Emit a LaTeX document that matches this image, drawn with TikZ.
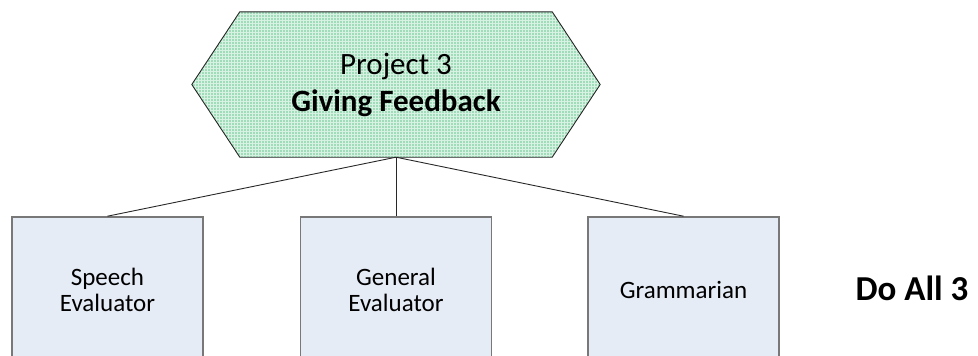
\documentclass[tikz,border=0pt]{standalone}
\usepackage{fontspec}
\setmainfont{Carlito}
\usetikzlibrary{calc,backgrounds,patterns}
\definecolor{hexbase}{RGB}{160,220,185}
\definecolor{hexgrid}{RGB}{215,242,226}
\definecolor{boxfill}{RGB}{230,236,246}
\definecolor{boxline}{RGB}{120,120,120}
\definecolor{conline}{RGB}{40,40,40}
\tikzset{
  hexbox/.style={minimum width=312pt, minimum height=145pt, inner sep=0pt, align=center, font=\fontsize{31}{37}\selectfont},
  hexline/.style={draw=black!85, line width=0.9pt, preaction={fill=hexbase}, pattern=grid, pattern color=hexgrid},
  rolebox/.style={draw=boxline, line width=1.6pt, fill=boxfill, minimum width=191pt, minimum height=146pt, inner sep=0pt, align=center, font=\fontsize{25}{25.5}\selectfont},
  conn/.style={draw=conline, line width=0.9pt},
  note/.style={font=\fontsize{35}{38}\selectfont\bfseries, inner sep=0pt}
}
\begin{document}
\begin{tikzpicture}[x=1pt,y=-1pt]
\useasboundingbox (0,0) rectangle (978,356);
\clip (0,0) rectangle (978,356);
\node[hexbox] (proj) at (396,84.5) {Project 3\\\textbf{Giving Feedback}};
\begin{scope}[on background layer]
\draw[hexline] (proj.north west) -- (proj.north east) -- ($(proj.east)+(48,0)$) -- (proj.south east) -- (proj.south west) -- ($(proj.west)+(-48,0)$) -- cycle;
\end{scope}
\node[rolebox] (speech) at (107.5,290) {Speech\\Evaluator};
\node[rolebox] (general) at (396,290) {General\\Evaluator};
\node[rolebox] (gram) at (683.5,290) {Grammarian};
\node[note] (doall) at (912,288) {Do All 3};
\draw[conn] (proj.south) -- (speech.north);
\draw[conn] (proj.south) -- (general.north);
\draw[conn] (proj.south) -- (gram.north);
\end{tikzpicture}
\end{document}
